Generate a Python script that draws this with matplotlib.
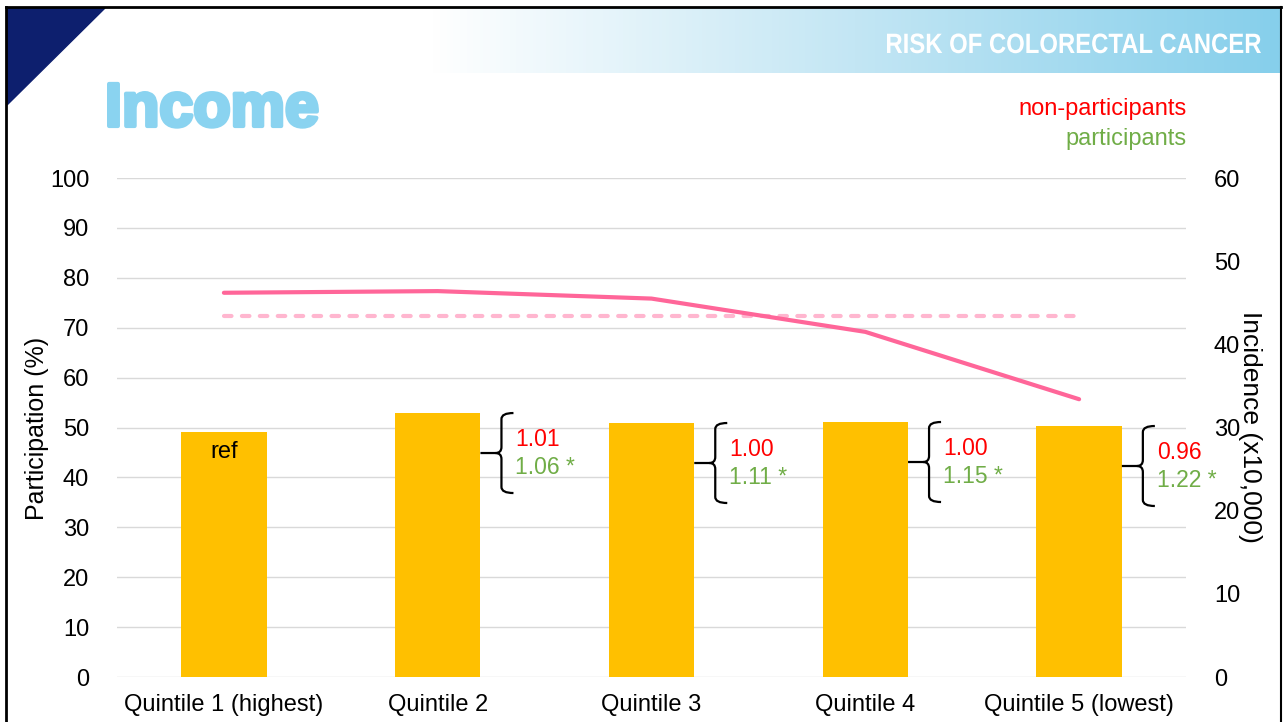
import matplotlib
matplotlib.use("Agg")
import matplotlib.pyplot as plt
import matplotlib.patheffects as pe
import numpy as np
from matplotlib.path import Path
from matplotlib.patches import PathPatch, Polygon
from matplotlib.lines import Line2D
from matplotlib import transforms as mtransforms
from matplotlib.colors import LinearSegmentedColormap
from matplotlib.textpath import TextPath
from matplotlib.font_manager import FontProperties

plt.rcParams["font.family"] = ["Liberation Sans", "DejaVu Sans"]

# data
categories = ["Quintile 1 (highest)", "Quintile 2", "Quintile 3",
              "Quintile 4", "Quintile 5 (lowest)"]
participation = [49.1, 52.9, 50.9, 51.1, 50.3]          # bars, left axis (%)
incidence = [46.2, 46.4, 45.5, 41.5, 33.4]              # solid line, right axis
incidence_mean = 43.4                                    # dashed line
hr_nonpart = ["1.01", "1.00", "1.00", "0.96"]            # quintiles 2-5
hr_part = ["1.06 *", "1.11 *", "1.15 *", "1.22 *"]

W, H = 1283, 722
fig = plt.figure(figsize=(W / 100, H / 100), dpi=100)


def fx(px):
    return px / W


def fy(py):
    return 1 - py / H


# top banner gradient
bax = fig.add_axes([fx(430), fy(73), fx(1280 - 430), (73 - 8) / H])
cmap = LinearSegmentedColormap.from_list(
    "band", [(0, "#ffffff"), (0.5, "#c3e6f4"), (1, "#86cfeb")])
bax.imshow(np.linspace(0, 1, 256)[None, :], aspect="auto", cmap=cmap,
           extent=[0, 1, 0, 1])
bax.axis("off")

# condensed banner title: text path squeezed horizontally
tp = TextPath((0, 0), "RISK OF COLORECTAL CANCER", size=28,
              prop=FontProperties(family="Liberation Sans", weight="bold"))
ext = tp.get_extents()
sx = 374 / ext.width
x0 = 1261 - ext.x1 * sx
tr = mtransforms.Affine2D().scale(sx / 100, 1 / 100).translate(x0 / 100, (H - 53) / 100) \
    + fig.dpi_scale_trans
fig.add_artist(PathPatch(tp, transform=tr, color="white", lw=0))

# slide frame and corner triangle
fig.add_artist(Line2D([fx(6), fx(6)], [0, fy(7)], color="black", lw=2))
fig.add_artist(Line2D([fx(6), fx(1281)], [fy(7), fy(7)], color="black", lw=2))
fig.add_artist(Line2D([fx(1281), fx(1281)], [0, fy(7)], color="black", lw=1.5))
fig.add_artist(Polygon([[fx(7), fy(8)], [fx(105), fy(8)], [fx(7), fy(105)]],
                       closed=True, color="#0d1f6e", transform=fig.transFigure))

fig.text(fx(105), fy(126), "Income", color="#8ad3f0", fontsize=44,
         fontweight="bold", ha="left", va="baseline",
         path_effects=[pe.withStroke(linewidth=3, foreground="#8ad3f0")])

fig.text(fx(1187), fy(109), "non-participants", color="#ff0000",
         fontsize=17, ha="right", va="center")
fig.text(fx(1187), fy(139), "participants", color="#70ad47",
         fontsize=17, ha="right", va="center")

# main axes
ax = fig.add_axes([fx(117), fy(677), fx(1186 - 117), (677 - 178) / H])
x = np.arange(len(categories))
ax.bar(x, participation, width=0.4, color="#ffc000", zorder=2)
ax.set_xlim(-0.5, len(categories) - 0.5)
ax.set_ylim(0, 100)
ax.set_yticks(range(0, 101, 10))
ax.set_xticks(x)
ax.set_xticklabels(categories)
ax.yaxis.grid(True, color="#d9d9d9", lw=1)
ax.set_axisbelow(True)
for s in ax.spines.values():
    s.set_visible(False)
ax.tick_params(axis="both", length=0, labelsize=17)
ax.tick_params(axis="y", pad=20)
ax.tick_params(axis="x", pad=12)

ax2 = ax.twinx()
ax2.set_ylim(0, 60)
ax2.set_yticks(range(0, 61, 10))
for s in ax2.spines.values():
    s.set_visible(False)
ax2.tick_params(axis="y", length=0, labelsize=17, pad=20)
ax2.plot(x, [incidence_mean] * len(x), color="#ffb6cf", lw=3,
         linestyle=(0, (1.8, 2.5)), dash_capstyle="round", zorder=3)
ax2.plot(x, incidence, color="#ff6699", lw=3, solid_capstyle="round", zorder=4)

fig.text(fx(37), fy(428), "Participation (%)", rotation=90, fontsize=18,
         ha="center", va="center")
fig.text(fx(1250), fy(427), "Incidence (x10,000)", rotation=270, fontsize=19,
         ha="center", va="center")

ax.text(0, participation[0], "ref", ha="center", va="center", fontsize=17,
        transform=ax.transData + mtransforms.ScaledTranslation(0, -20 / 100, fig.dpi_scale_trans))

# braces with hazard ratios, in pixel offsets from bar top-right corner
verts = [(0, -40), (15, -40),
         (33, 0), (21, 0), (21, -6), (21, -34), (21, -40), (15, -40),
         (21, -40), (21, -46), (21, -74), (21, -80), (33, -80)]
codes = [Path.MOVETO, Path.LINETO,
         Path.MOVETO, Path.CURVE3, Path.CURVE3, Path.LINETO, Path.CURVE3, Path.CURVE3,
         Path.CURVE3, Path.CURVE3, Path.LINETO, Path.CURVE3, Path.CURVE3]
brace = Path(np.array(verts, float) / 100.0, codes)

for i in range(1, len(categories)):
    off = fig.dpi_scale_trans + mtransforms.ScaledTranslation(
        i + 0.2, participation[i], ax.transData)
    ax.add_patch(PathPatch(brace, transform=off, fill=False, lw=1.6,
                           edgecolor="black", clip_on=False, zorder=5))
    t1 = ax.transData + mtransforms.ScaledTranslation(35 / 100, -26 / 100, fig.dpi_scale_trans)
    t2 = ax.transData + mtransforms.ScaledTranslation(35 / 100, -54 / 100, fig.dpi_scale_trans)
    ax.text(i + 0.2, participation[i], hr_nonpart[i - 1], color="#ff0000",
            fontsize=16.5, ha="left", va="center", transform=t1, zorder=6)
    ax.text(i + 0.2, participation[i], hr_part[i - 1], color="#70ad47",
            fontsize=16.5, ha="left", va="center", transform=t2, zorder=6)

fig.savefig("out.png", dpi=100)
plt.close(fig)
